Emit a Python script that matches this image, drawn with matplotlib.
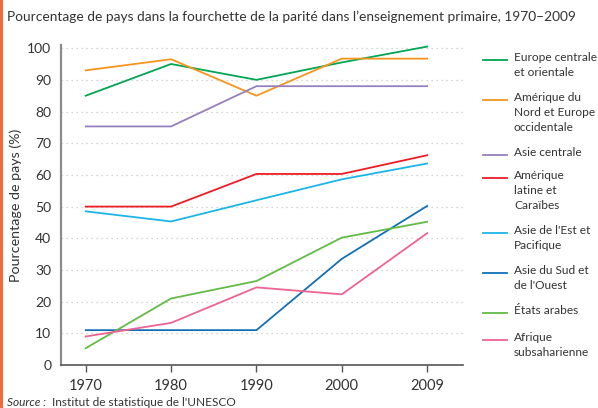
import matplotlib
matplotlib.use("Agg")
import matplotlib.pyplot as plt
from matplotlib.lines import Line2D
from matplotlib.patches import Rectangle

plt.rcParams['font.family'] = ['Lato', 'DejaVu Sans']

years = ["1970", "1980", "1990", "2000", "2009"]
series_names = [
    "Europe centrale\net orientale",
    "Amérique du\nNord et Europe\noccidentale",
    "Asie centrale",
    "Amérique\nlatine et\nCaraïbes",
    "Asie de l'Est et\nPacifique",
    "Asie du Sud et\nde l'Ouest",
    "États arabes",
    "Afrique\nsubsaharienne",
]
europe_centrale = [85, 95, 90, 95.5, 100.5]
amerique_nord = [93, 96.5, 85, 96.7, 96.7]
asie_centrale = [75.3, 75.3, 88, 88, 88]
amerique_latine = [50, 50, 60.3, 60.3, 66.2]
asie_est = [48.5, 45.3, 52, 58.6, 63.6]
asie_sud = [11, 11, 11, 33.5, 50.2]
etats_arabes = [5.3, 21, 26.5, 40.2, 45.2]
afrique = [9, 13.3, 24.5, 22.3, 41.6]
all_series = [europe_centrale, amerique_nord, asie_centrale, amerique_latine,
              asie_est, asie_sud, etats_arabes, afrique]
colors = ["#00a651", "#f7941d", "#9580bf", "#ed1c24",
          "#1cb5e8", "#1170b5", "#62bb46", "#ef6390"]

y_ticks = [0, 10, 20, 30, 40, 50, 60, 70, 80, 90, 100]
text_col = "#333333"

fig = plt.figure(figsize=(5.98, 4.08), dpi=100)
W, H = 598, 408
ax = fig.add_axes([61 / W, (H - 365) / H, (463 - 61) / W, (365 - 45) / H])

x = list(range(len(years)))
for vals, c in zip(all_series, colors):
    ax.plot(x, vals, color=c, lw=1.3, clip_on=False, zorder=3)

ax.set_xlim(-0.29, 4.42)
ax.set_ylim(0, 101)
ax.set_xticks(x)
ax.set_xticklabels(years)
ax.set_yticks(y_ticks)
for yt in y_ticks[1:]:
    ax.axhline(yt, color="#c8c8c8", lw=0.9, ls=(0, (1, 3)), zorder=1)

for s in ["top", "right"]:
    ax.spines[s].set_visible(False)
ax.spines["left"].set_color("#8c8c8c")
ax.spines["left"].set_linewidth(1.6)
ax.spines["bottom"].set_color("#555555")
ax.spines["bottom"].set_linewidth(1.2)
ax.tick_params(axis="y", length=0, pad=7, labelsize=10, labelcolor=text_col)
ax.tick_params(axis="x", length=5, width=1, color="#555555", pad=5,
               labelsize=10.5, labelcolor=text_col)
ax.set_ylabel("Pourcentage de pays (%)", fontsize=10.3, color=text_col, labelpad=4)

fig.text(7 / W, 1 - 17 / H,
         "Pourcentage de pays dans la fourchette de la parité dans l’enseignement primaire, 1970–2009",
         fontsize=9.95, color=text_col, va="center", ha="left")

fig.text(7 / W, 1 - 403 / H, "Source :", fontsize=8.6, style="italic",
         color=text_col, va="center", ha="left")
fig.text(52 / W, 1 - 403 / H, "Institut de statistique de l'UNESCO", fontsize=8.6,
         color=text_col, va="center", ha="left")

# Left stripe
fig.add_artist(Rectangle((0, 0), 2.5 / W, 1, transform=fig.transFigure,
                         color="#f26a3a", lw=0))

# Manual legend
legend_tops = [60, 100, 155, 178, 233, 273, 313, 340]
for name, c, yt in zip(series_names, colors, legend_tops):
    yf = 1 - yt / H
    fig.add_artist(Line2D([483 / W, 507 / W], [yf, yf], color=c, lw=1.3,
                          transform=fig.transFigure))
    fig.text(514 / W, 1 - (yt - 8) / H, name, fontsize=8.6, color=text_col,
             va="top", ha="left", linespacing=1.47)

fig.savefig("out.png", dpi=100)
